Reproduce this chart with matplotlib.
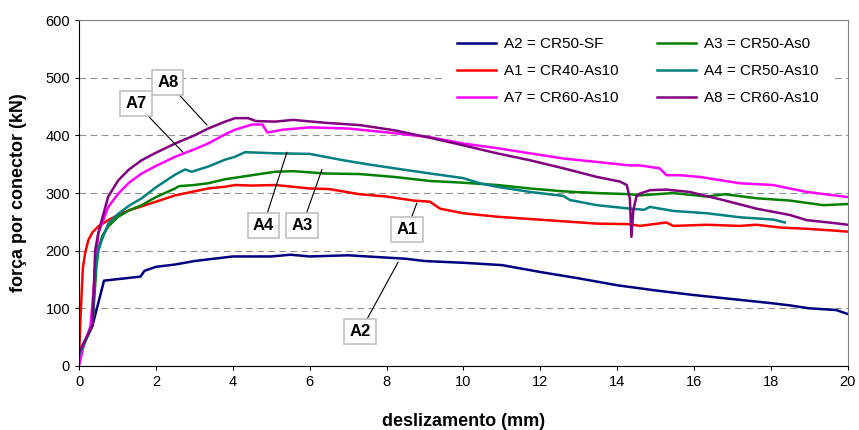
import matplotlib as mpl
mpl.use('Agg')
import matplotlib.pyplot as plt

plt.rcParams['font.family'] = ['Liberation Sans', 'DejaVu Sans']

# A2 = CR50-SF
a2_x = [0, 0.35, 0.65, 1.6, 1.7, 2.0, 2.5, 3.0, 3.5, 4.0, 5.0, 5.5, 6.0, 7.0, 8.0, 8.5, 9.0,
        10.0, 11.0, 12.0, 13.0, 14.0, 15.0, 16.0, 17.0, 18.0, 18.5, 19.0, 19.7, 20.0]
a2_y = [22, 70, 148, 155, 165, 172, 176, 182, 186, 190, 190, 193, 190, 192, 188, 186, 182,
        179, 175, 163, 152, 140, 131, 123, 116, 109, 105, 100, 97, 90]

# A1 = CR40-As10
a1_x = [0, 0.05, 0.1, 0.16, 0.24, 0.35, 0.5, 0.76, 1.02, 1.3, 1.63, 2.0, 2.5, 3.0, 3.36, 3.8,
        4.06, 4.5, 5.1, 6.0, 6.5, 7.3, 8.0, 8.7, 9.13, 9.39, 9.99, 10.87, 11.73, 12.6, 13.47,
        14.33, 14.59, 15.28, 15.46, 16.33, 17.19, 17.62, 18.27, 18.93, 19.62, 20.0]
a1_y = [20, 100, 170, 196, 218, 232, 242, 253, 262, 270, 277, 285, 296, 303, 308, 311,
        314, 313, 314, 308, 307, 298, 294, 287, 285, 273, 265, 259, 255, 251, 247,
        246, 243, 249, 243, 245, 243, 245, 240, 238, 235, 233]

# A3 = CR50-As0
a3_x = [0, 0.35, 0.4, 0.45, 0.5, 0.6, 0.76, 1.02, 1.3, 1.63, 2.0, 2.5, 2.6, 3.0, 3.36, 3.8,
        4.2, 5.1, 5.57, 6.4, 7.3, 8.2, 9.13, 9.99, 10.87, 11.73, 12.6, 13.47, 14.33, 14.59,
        15.46, 16.33, 16.8, 17.62, 18.49, 19.36, 20.0]
a3_y = [20, 70, 120, 170, 200, 225, 242, 259, 270, 279, 293, 308, 312, 314, 317, 324,
        328, 337, 338, 334, 333, 328, 321, 318, 314, 308, 303, 300, 298, 296,
        300, 294, 298, 291, 287, 279, 281]

# A4 = CR50-As10
a4_x = [0, 0.35, 0.4, 0.45, 0.5, 0.59, 0.76, 1.02, 1.3, 1.63, 2.0, 2.5, 2.76, 2.93, 3.36,
        3.8, 4.06, 4.32, 5.1, 6.0, 6.87, 7.5, 8.2, 9.13, 9.99, 10.43, 10.87, 11.73, 12.6,
        12.77, 13.47, 14.33, 14.7, 14.85, 15.46, 16.33, 17.19, 18.06, 18.36]
a4_y = [20, 70, 140, 180, 200, 218, 247, 264, 278, 291, 310, 332, 341, 337, 346,
        358, 363, 371, 369, 368, 357, 350, 343, 334, 326, 317, 311, 302, 295,
        288, 279, 273, 271, 276, 269, 265, 258, 254, 249]

# A7 = CR60-As10
a7_x = [0, 0.1, 0.3, 0.4, 0.5, 0.76, 1.02, 1.3, 1.63, 2.0, 2.5, 3.0, 3.36, 3.8, 4.06, 4.5,
        4.77, 4.9, 5.3, 6.0, 7.0, 8.2, 9.13, 9.99, 10.87, 11.73, 12.6, 13.47, 14.33, 14.59,
        15.1, 15.28, 15.63, 16.15, 17.19, 18.05, 18.93, 20.0]
a7_y = [0, 30, 70, 150, 230, 276, 299, 318, 334, 347, 363, 376, 386, 402, 410, 419,
        419, 405, 410, 414, 412, 404, 397, 386, 378, 369, 360, 354, 348, 348,
        343, 331, 331, 328, 317, 314, 302, 293]

# A8 = CR60-As10
a8_x = [0, 0.35, 0.42, 0.5, 0.59, 0.76, 1.02, 1.3, 1.63, 2.0, 2.5, 3.0, 3.36, 3.8, 4.06,
        4.4, 4.6, 5.1, 5.57, 6.4, 7.3, 8.2, 9.13, 9.99, 10.87, 11.73, 12.6, 13.47, 14.07,
        14.25, 14.33, 14.37, 14.42, 14.5, 14.59, 14.85, 15.28, 15.88, 16.75, 17.62, 18.49,
        18.93, 19.5, 20.0]
a8_y = [24, 70, 201, 230, 253, 294, 322, 341, 357, 370, 386, 400, 412, 424, 430,
        430, 425, 424, 427, 422, 418, 409, 396, 383, 369, 357, 343, 328, 320,
        314, 290, 224, 270, 294, 299, 305, 306, 302, 288, 273, 262,
        253, 249, 245]

# label text, text position, arrow tip
labels = ['A8', 'A7', 'A4', 'A3', 'A1', 'A2']
label_pos = [(2.31, 492), (1.48, 456), (4.79, 243), (5.80, 243), (8.53, 236), (7.31, 59)]
label_tip = [(3.33, 418), (2.70, 371), (5.41, 371), (6.32, 341), (8.79, 283), (8.30, 180)]

fig = plt.figure(figsize=(8.59, 4.30), dpi=100)
ax = fig.add_axes([0.092, 0.149, 0.895, 0.804])

ax.plot(a2_x, a2_y, color='#000080', lw=1.8, label='A2 = CR50-SF')
ax.plot(a1_x, a1_y, color='#ff0000', lw=1.8, label='A1 = CR40-As10')
ax.plot(a7_x, a7_y, color='#ff00ff', lw=1.8, label='A7 = CR60-As10')
ax.plot(a3_x, a3_y, color='#008000', lw=1.8, label='A3 = CR50-As0')
ax.plot(a4_x, a4_y, color='#008080', lw=1.8, label='A4 = CR50-As10')
ax.plot(a8_x, a8_y, color='#800080', lw=1.8, label='A8 = CR60-As10')

ax.set_xlim(0, 20)
ax.set_ylim(0, 600)
ax.set_xticks(range(0, 21, 2))
ax.set_yticks(range(0, 601, 100))
ax.tick_params(labelsize=10.5, length=3, colors='black')
ax.yaxis.grid(True, ls=(0, (6, 4)), color='#909090', lw=0.8)
ax.set_axisbelow(True)
for s in ['top', 'right']:
    ax.spines[s].set_color('#808080')
ax.spines['left'].set_color('black')
ax.spines['bottom'].set_color('black')

ax.set_xlabel('deslizamento (mm)', fontsize=13, fontweight='bold', labelpad=17)
ax.set_ylabel('força por conector (kN)', fontsize=13, fontweight='bold')
ax.yaxis.set_label_coords(-0.068, 0.5)

leg = ax.legend(ncol=2, loc='upper left', bbox_to_anchor=(0.474, 0.99), fontsize=11,
                handlelength=2.55, handletextpad=0.52, columnspacing=2.5, labelspacing=0.85,
                frameon=True, fancybox=False, framealpha=1, edgecolor='white',
                borderpad=0.9, borderaxespad=0)

for t, p, tip in zip(labels, label_pos, label_tip):
    ax.annotate(t, xy=tip, xytext=p, ha='center', va='center', fontsize=12,
                fontweight='bold',
                bbox=dict(boxstyle='square,pad=0.3', fc='white', ec='#c0c0c0', lw=1.2),
                arrowprops=dict(arrowstyle='-', color='black', lw=0.8, shrinkA=0, shrinkB=0))

fig.savefig('out.png', dpi=100)
